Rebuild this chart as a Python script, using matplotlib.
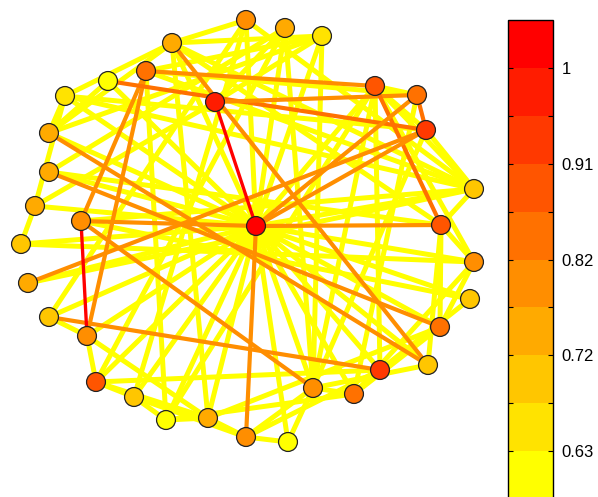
import matplotlib
matplotlib.use("Agg")
import matplotlib.pyplot as plt
import numpy as np
from matplotlib.collections import LineCollection
from matplotlib.colors import Normalize
from matplotlib.cm import ScalarMappable

plt.rcParams['font.family'] = ['Liberation Sans', 'DejaVu Sans']

# ---- data ----
node_x = [246, 285, 322, 172, 146, 108, 65, 215, 375, 417, 426, 49, 49, 35, 474, 81, 256, 441,
          21, 474, 28, 470, 49, 87, 440, 428, 380, 96, 313, 354, 134, 166, 208, 246, 288]
node_y = [20, 28, 36, 43, 71, 81, 96, 102, 86, 95, 130, 133, 172, 206, 189, 221, 226, 225,
          244, 262, 283, 299, 317, 336, 327, 365, 370, 382, 388, 394, 397, 420, 418, 437, 442]
node_val = [0.79, 0.75, 0.65, 0.75, 0.84, 0.61, 0.65, 0.98, 0.88, 0.84, 0.93, 0.75, 0.75, 0.75,
            0.70, 0.79, 1.02, 0.88, 0.70, 0.79, 0.75, 0.70, 0.70, 0.79, 0.84, 0.70, 0.93, 0.88,
            0.79, 0.84, 0.70, 0.61, 0.75, 0.79, 0.61]

hub = 17
hub_links = [1, 2, 3, 4, 6, 7, 9, 12, 13, 14, 15, 19, 20, 21, 22, 23, 24, 25, 26, 27, 28,
             29, 30, 31, 32, 33, 35]
yellow_pairs = [(7, 14), (14, 19), (7, 4), (12, 6), (12, 4), (13, 2), (13, 18), (14, 8), (12, 3),
                (1, 4), (1, 15), (1, 31), (1, 23), (2, 8), (2, 29), (3, 4), (3, 29), (3, 8),
                (5, 3), (4, 15), (5, 15), (5, 32), (4, 33), (9, 27), (9, 29), (9, 15), (9, 10),
                (9, 11), (9, 20), (10, 30), (10, 5), (11, 15), (11, 7), (11, 29), (15, 18),
                (15, 16), (15, 7), (15, 21), (18, 4), (19, 20), (22, 16), (20, 18), (20, 25),
                (20, 30), (22, 27), (25, 18), (25, 27), (25, 30), (23, 24), (24, 28), (24, 33),
                (28, 31), (28, 33), (28, 27), (28, 2), (31, 33), (32, 33), (32, 9), (32, 30),
                (33, 34), (34, 29), (34, 27), (35, 29), (34, 35), (29, 30), (27, 30), (26, 29),
                (26, 18), (31, 34), (33, 25), (31, 32), (12, 7)]
yellow_val = 0.61
orange_pairs = [(4, 26), (5, 9), (5, 16), (5, 24), (6, 11), (8, 10), (9, 18), (10, 11), (12, 26),
                (13, 25), (16, 17), (16, 29), (17, 10), (17, 11), (17, 18), (17, 34), (21, 11),
                (23, 27)]
orange_val = [0.79, 0.79, 0.79, 0.79, 0.84, 0.79, 0.84, 0.84, 0.79,
              0.79, 0.79, 0.79, 0.79, 0.79, 0.79, 0.79, 0.79, 0.79]
red_pairs = [(8, 17), (16, 24)]
red_val = [1.02, 1.02]

vmin, vmax = 0.58375, 1.04625
n_levels = 10
cbar_labels = ['0.63', '', '0.72', '', '0.82', '', '0.91', '', '1']

# ---- figure ----
W, H = 598, 497
fig = plt.figure(figsize=(W / 100, H / 100), dpi=100)
ax = fig.add_axes([0, 0, 490 / W, 1])
ax.set_xlim(0, 490)
ax.set_ylim(H, 0)
ax.axis('off')

cmap = plt.get_cmap('autumn_r', n_levels)
norm = Normalize(vmin=vmin, vmax=vmax)
xs = np.array(node_x, float)
ys = np.array(node_y, float)


def segs(pairs):
    return [[(xs[a - 1], ys[a - 1]), (xs[b - 1], ys[b - 1])] for a, b in pairs]


ypairs = [(hub, k) for k in hub_links] + yellow_pairs
lc_y = LineCollection(segs(ypairs), colors=[cmap(norm(yellow_val))] * len(ypairs),
                      linewidths=3.6, capstyle='butt', zorder=1)
ax.add_collection(lc_y)
lc_o = LineCollection(segs(orange_pairs), colors=[cmap(norm(v)) for v in orange_val],
                      linewidths=3.0, capstyle='butt', zorder=2)
ax.add_collection(lc_o)
lc_r = LineCollection(segs(red_pairs), colors=[cmap(norm(v)) for v in red_val],
                      linewidths=2.4, capstyle='butt', zorder=3)
ax.add_collection(lc_r)

ax.scatter(xs, ys, s=185, c=node_val, cmap=cmap, norm=norm, edgecolors='#222222',
           linewidths=0.9, zorder=5)

# ---- colorbar ----
cax = fig.add_axes([508 / W, -2 / H, 45 / W, 479 / H])
sm = ScalarMappable(norm=norm, cmap=cmap)
cb = fig.colorbar(sm, cax=cax)
step = (vmax - vmin) / n_levels
ticks = [vmin + step * k for k in range(1, n_levels)]
cb.set_ticks(ticks)
cb.set_ticklabels(cbar_labels)
cax.tick_params(direction='in', length=3.5, width=0.8, left=True, right=True,
                labelsize=12, pad=6, colors='black')
cb.outline.set_linewidth(1.0)

fig.savefig('out.png', dpi=100)
